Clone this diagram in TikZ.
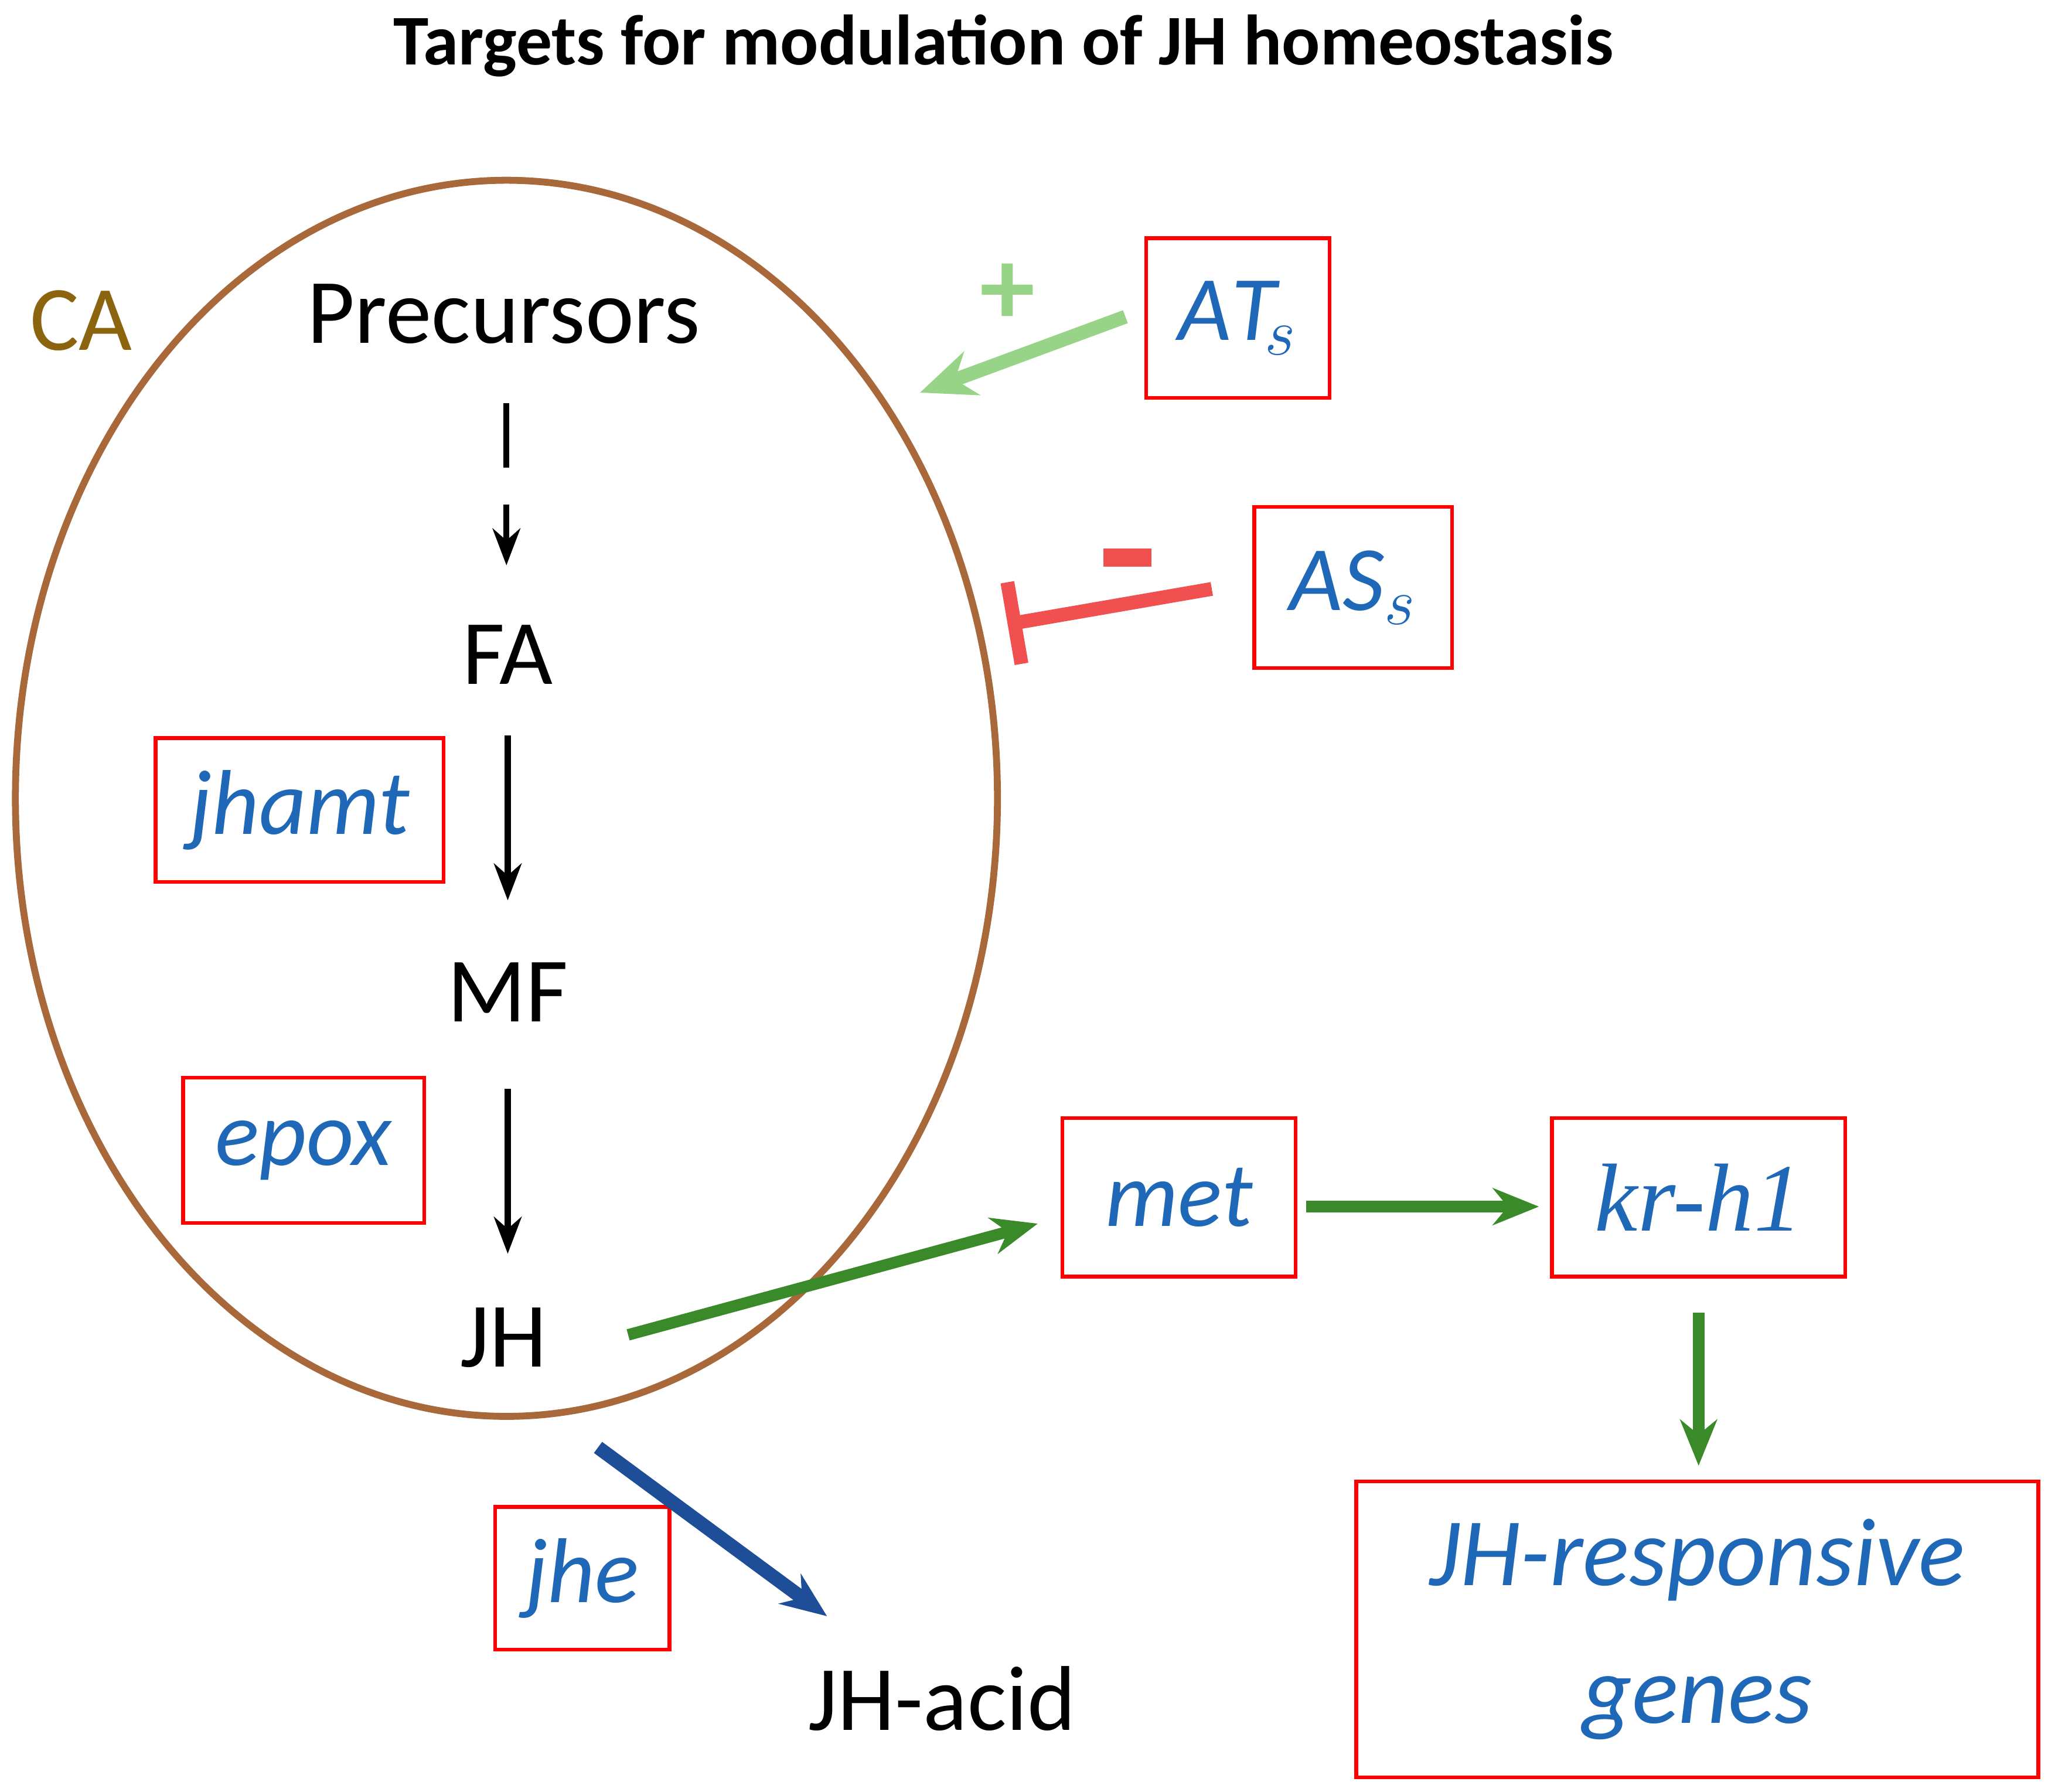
\documentclass[tikz,border=0pt]{standalone}
\usepackage{fontspec}
\setmainfont{Carlito}
\newfontfamily\krfont{Liberation Serif}
\usetikzlibrary{arrows.meta,shapes.geometric}
\definecolor{cabrown}{HTML}{A8683A}
\definecolor{caolive}{HTML}{8C6410}
\definecolor{geneblue}{HTML}{1F68B8}
\definecolor{darkgreen}{HTML}{3A8A2A}
\definecolor{lightgreen}{HTML}{98D488}
\definecolor{inhred}{HTML}{F05050}
\definecolor{jheblue}{HTML}{1F4E99}
\tikzset{
  gene/.style={draw=red, line width=0.8pt, text=geneblue, font=\fontsize{20}{24}\selectfont\itshape, inner sep=0pt},
  met/.style={font=\fontsize{20}{24}\selectfont},
  pathstep/.style={-{Stealth[length=8pt,width=6pt]}, line width=1.3pt}
}
\begin{document}
\begin{tikzpicture}[x=0.01cm,y=-0.01cm]
        \useasboundingbox (0,0) rectangle (1565,1369);
        % title
        \node[font=\fontsize{15.5}{18}\selectfont\bfseries] (title) at (767,35) {Targets for modulation of JH homeostasis};
        % corpora allata
        \node[draw=cabrown, line width=1.5pt, ellipse, minimum width=7.5cm, minimum height=9.44cm, inner sep=0pt] (caell) at (387,610) {};
        \node[met, text=caolive] (ca) at (62,245) {CA};
        % pathway
        \node[met] (pre) at (385,240) {Precursors};
        \node[met] (fa) at (388,500) {FA};
        \node[met] (mf) at (388,758) {MF};
        \node[met] (jh) at (385,1022) {JH};
        \node[met] (acid) at (720,1298) {JH-acid};
        \coordinate (p1) at (387,308); \coordinate (p2) at (387,432);
        \coordinate (f1) at (388,562); \coordinate (f2) at (388,688);
        \coordinate (m1) at (388,832); \coordinate (m2) at (388,958);
        \draw[pathstep, dash pattern=on 14pt off 8pt] (p1) -- (p2);
        \draw[pathstep] (f1) -- (f2);
        \draw[pathstep] (m1) -- (m2);
        % genes
        \node[gene, minimum width=2.2cm, minimum height=1.1cm] (jhamt) at (229,619) {jhamt};
        \node[gene, minimum width=1.84cm, minimum height=1.11cm] (epox) at (232,879) {epox};
        \node[gene, minimum width=1.4cm, minimum height=1.22cm] (ats) at (946,243) {$\mathit{AT}_{\!s}$};
        \node[gene, minimum width=1.51cm, minimum height=1.23cm] (ass) at (1034,449) {$\mathit{AS}_{s}$};
        \node[gene, minimum width=1.78cm, minimum height=1.21cm] (metg) at (901,915) {met};
        \node[gene, minimum width=2.24cm, minimum height=1.21cm, font=\fontsize{21}{24}\selectfont\krfont\itshape] (krh) at (1298,915) {kr-h1};
        \node[gene, minimum width=5.21cm, minimum height=2.26cm, align=center, font=\fontsize{21}{30}\selectfont\itshape] (resp) at (1297,1245) {JH-responsive\\genes};
        \node[gene, minimum width=1.33cm, minimum height=1.09cm] (jhe) at (445,1206) {jhe};
        % regulation
        \coordinate (a1) at (860,242); \coordinate (a2) at (703,300);
        \draw[-{Stealth[length=12pt,width=10pt]}, lightgreen, line width=3pt] (a1) -- (a2);
        \node[text=lightgreen, font=\fontsize{24}{24}\selectfont\bfseries] (plus) at (770,225) {+};
        \coordinate (s1) at (926,450); \coordinate (s2) at (770,477);
        \draw[-{Bar[width=18pt]}, inhred, line width=3pt] (s1) -- (s2);
        \draw[inhred, line width=4pt] (843,426) -- (880,426);
        % signalling
        \coordinate (j1) at (480,1020); \coordinate (j2) at (793,935);
        \coordinate (k1) at (998,922); \coordinate (k2) at (1176,922);
        \coordinate (r1) at (1298,1003); \coordinate (r2) at (1298,1120);
        \coordinate (h1) at (457,1106); \coordinate (h2) at (632,1235);
        \draw[-{Stealth[length=10pt,width=8pt]}, darkgreen, line width=2.5pt] (j1) -- (j2);
        \draw[-{Stealth[length=10pt,width=8pt]}, darkgreen, line width=2.5pt] (k1) -- (k2);
        \draw[-{Stealth[length=10pt,width=8pt]}, darkgreen, line width=2.5pt] (r1) -- (r2);
        \draw[-{Stealth[length=10pt,width=8pt]}, jheblue, line width=3pt] (h1) -- (h2);
\end{tikzpicture}
\end{document}
